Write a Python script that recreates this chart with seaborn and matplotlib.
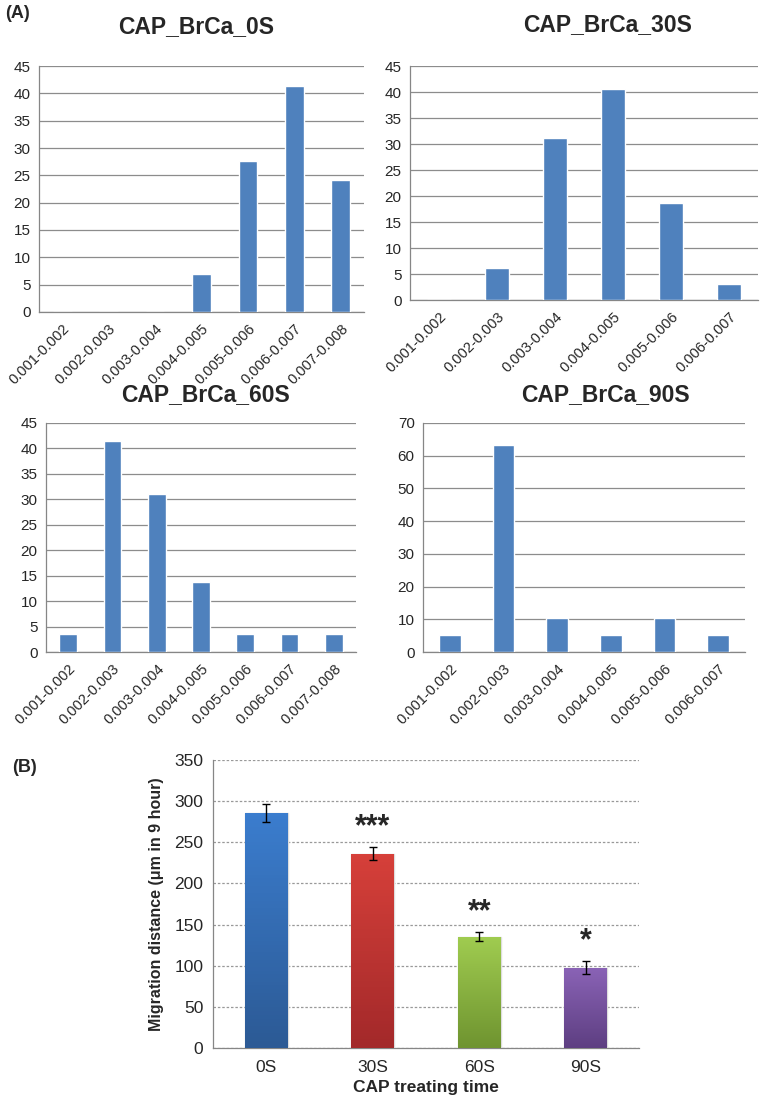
import numpy as np
import matplotlib
matplotlib.use("Agg")
import matplotlib.pyplot as plt
import seaborn as sns
from matplotlib.colors import LinearSegmentedColormap

# 資料 (A) 分佈直方圖, 百分比
bins_8 = ["0.001-0.002", "0.002-0.003", "0.003-0.004", "0.004-0.005",
          "0.005-0.006", "0.006-0.007", "0.007-0.008"]
bins_7 = bins_8[:6]
pct_0s = [0, 0, 0, 6.9, 27.6, 41.4, 24.1]
pct_30s = [0, 6.25, 31.25, 40.6, 18.75, 3.1]
pct_60s = [3.45, 41.4, 31.0, 13.8, 3.45, 3.45, 3.45]
pct_90s = [5.26, 63.2, 10.5, 5.26, 10.5, 5.26]

# 資料 (B) 遷移距離
times = ["0S", "30S", "60S", "90S"]
migration = [285.8, 236.2, 135.2, 97.7]
migration_err = [11, 8, 5.5, 8]
stars = ["", "***", "**", "*"]

sns.set_style("white")
plt.rcParams["font.family"] = ["Liberation Sans", "DejaVu Sans"]

fig = plt.figure(figsize=(7.62, 11.02), dpi=100)
W, H = 762, 1102


def add_ax(left, top, right, bottom):
    return fig.add_axes([left / W, 1 - bottom / H, (right - left) / W, (bottom - top) / H])


def hist_panel(ax, cats, vals, title, ymax, step, tx, ty):
    sns.barplot(x=cats, y=vals, color="#4f81bd", saturation=1, width=0.4, ax=ax, zorder=3)
    n = len(cats)
    ax.set_xlim(-0.5, n - 0.5)
    ax.set_ylim(0, ymax)
    ax.set_yticks(np.arange(0, ymax + 1, step))
    ax.yaxis.grid(True, color="#8c8c8c", lw=0.9, zorder=0)
    ax.set_axisbelow(True)
    for s in ["top", "right"]:
        ax.spines[s].set_visible(False)
    for s in ["left", "bottom"]:
        ax.spines[s].set_color("#868686")
        ax.spines[s].set_linewidth(0.9)
    ax.set_xticks(range(n))
    ax.set_xticklabels(cats, rotation=45, ha="right", rotation_mode="anchor", fontsize=10.5)
    ax.set_xticks(np.arange(-0.5, n, 1), minor=True)
    ax.tick_params(axis="x", which="major", length=0, pad=7)
    ax.tick_params(axis="x", which="minor", length=4, color="#868686", width=0.9)
    ax.tick_params(axis="y", length=3, color="#868686", labelsize=11, pad=3)
    ax.set_xlabel("")
    ax.set_ylabel("")
    # 標題位置 (圖形像素)
    fig.text(tx / W, 1 - ty / H, title, fontsize=16.5, fontweight="bold",
             ha="center", va="center")


ax1 = add_ax(39, 66, 364, 312)
hist_panel(ax1, bins_8, pct_0s, "CAP_BrCa_0S", 45, 5, 196, 27)
ax2 = add_ax(410, 66, 758, 300)
hist_panel(ax2, bins_7, pct_30s, "CAP_BrCa_30S", 45, 5, 608, 25)
ax3 = add_ax(46, 423, 356, 652)
hist_panel(ax3, bins_8, pct_60s, "CAP_BrCa_60S", 45, 5, 205, 395)
ax4 = add_ax(423, 423, 745, 652)
hist_panel(ax4, bins_7, pct_90s, "CAP_BrCa_90S", 70, 10, 605, 395)

# (B) 遷移距離柱狀圖
axb = add_ax(213, 760, 639, 1048)
grads = [("#2c5a95", "#3b7dce"), ("#a3292a", "#d6403a"),
         ("#6f9430", "#a0cc50"), ("#5e3f82", "#8a63b6")]
sns.barplot(x=times, y=migration, color="#888888", saturation=1, width=0.4,
            ax=axb, zorder=3, errorbar=None)
axb.errorbar(range(len(times)), migration, yerr=migration_err, fmt="none",
             ecolor="black", elinewidth=1, capsize=3, capthick=1, zorder=5)
for p, (c0, c1) in zip(axb.patches, grads):
    x0, w, h = p.get_x(), p.get_width(), p.get_height()
    cmap = LinearSegmentedColormap.from_list("g", [c0, c1])
    im = axb.imshow(np.linspace(0, 1, 64).reshape(-1, 1), extent=[x0, x0 + w, 0, h],
                    origin="lower", aspect="auto", cmap=cmap, zorder=4)
    im.set_clip_path(p)
    p.set_edgecolor("#dddddd")
for i, s in enumerate(stars):
    if s:
        axb.text(i, migration[i] + migration_err[i] + 24, s, ha="center", va="center",
                 fontsize=22, fontweight="bold")
axb.set_xlim(-0.5, len(times) - 0.5)
axb.set_ylim(0, 350)
axb.set_yticks(np.arange(0, 351, 50))
axb.yaxis.grid(True, color="#999999", lw=0.9, linestyle=(0, (2, 1.5)), zorder=0)
axb.set_axisbelow(True)
for s in ["top", "right"]:
    axb.spines[s].set_visible(False)
for s in ["left", "bottom"]:
    axb.spines[s].set_color("#868686")
    axb.spines[s].set_linewidth(0.9)
axb.set_xticks(np.arange(-0.5, len(times), 1), minor=True)
axb.tick_params(axis="x", which="major", length=0, labelsize=12.5, pad=9)
axb.tick_params(axis="x", which="minor", length=4, color="#868686")
axb.tick_params(axis="y", length=4, color="#868686", labelsize=12.5, pad=3)
axb.set_xlabel("CAP treating time", fontsize=12.5, fontweight="bold", labelpad=3)
axb.set_ylabel("Migration distance (μm in 9 hour)", fontsize=11.5, fontweight="bold", labelpad=7)

fig.text(5 / W, 1 - 14 / H, "(A)", fontsize=13, fontweight="bold", va="center", ha="left")
fig.text(12 / W, 1 - 768 / H, "(B)", fontsize=13, fontweight="bold", va="center", ha="left")

fig.savefig("out.png", dpi=100)
